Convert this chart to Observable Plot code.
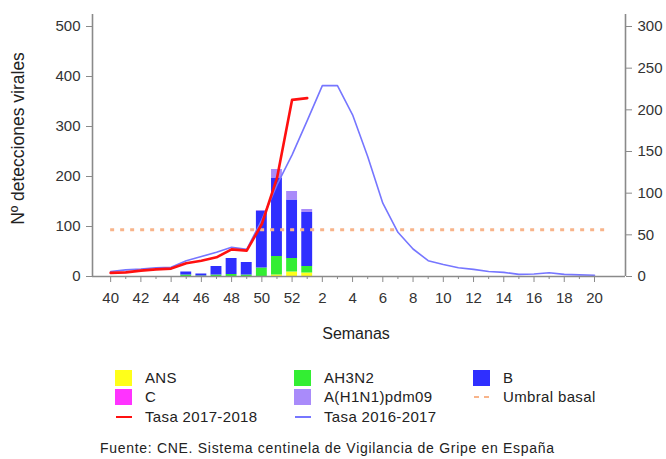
<!DOCTYPE html>
<html>
<head>
<meta charset="utf-8">
<script src="https://cdn.jsdelivr.net/npm/d3@7"></script>
<script src="https://cdn.jsdelivr.net/npm/@observablehq/plot@0.6"></script>
<style>
  html, body { margin: 0; padding: 0; background: #fff; }
  body { width: 666px; height: 459px; position: relative; overflow: hidden;
         font-family: "Liberation Sans", Arial, sans-serif; color: #222; }
  #chart { position: absolute; left: 0; top: 0; }
  .leg { position: absolute; font-size: 15px; line-height: 17px; letter-spacing: 0.35px; white-space: nowrap; }
  .sw { position: absolute; }
  #caption { position: absolute; left: 100px; top: 440px; font-size: 14px; letter-spacing: 0.7px; white-space: nowrap; }
</style>
</head>
<body>
<div id="chart"></div>
<div id="legend"></div>
<div id="caption">Fuente: CNE. Sistema centinela de Vigilancia de Gripe en España</div>
<script>
// ---- data ----
const weeks = ["40","41","42","43","44","45","46","47","48","49","50","51","52",
  "1","2","3","4","5","6","7","8","9","10","11","12","13","14","15","16","17","18","19","20"];
const barWeeks = ["45","46","47","48","49","50","51","52","1"];
const seriesNames = ["ANS","C","AH3N2","B","A(H1N1)pdm09"];
const ANS   = [0,0,0,0,0,0,3,9,7];
const C     = [0,0,0,0,0,0,0,0,0];
const AH3N2 = [3,1,3,4,3,17,37,27,13];
const B     = [6,4,17,32,25,113,156,117,108];
const H1N1  = [0,0,0,0,0,2,18,17,6];
const seriesColors = ["#ffff1a","#ff33ff","#33ee33","#2f2fff","#a98bfa"];
// rates (right axis, per 100.000)
const rate2017Weeks = ["40","41","42","43","44","45","46","47","48","49","50","51","52","1"];
const rate2017 = [4.4,5,7,8.5,9.5,16,19,23,32.5,31,63,118,212,214];
const rate2016 = [6,8,9,10.5,11,19,24,29,35,32.5,68,110,146,
  187,229,229,194,144,88,53,33,19,14.5,10.5,8.5,6,5,2.5,3,4.5,2.5,2,1.5];
const umbral = 56;
const leftTicks = [0,100,200,300,400,500];
const rightTicks = [0,50,100,150,200,250,300];

// ---- derived ----
const idx = w => weeks.indexOf(w);
const toLeft = v => v * 500 / 300;
const seriesValues = [ANS, C, AH3N2, B, H1N1];
const stacked = [];
barWeeks.forEach((w, j) => {
  let acc = 0;
  seriesNames.forEach((s, k) => {
    const v = seriesValues[k][j];
    stacked.push({i: idx(w), type: s, y1: acc, y2: acc + v});
    acc += v;
  });
});
const line2016 = weeks.map((w, i) => ({i, v: toLeft(rate2016[i])}));
const line2017 = rate2017Weeks.map((w, k) => ({i: idx(w), v: toLeft(rate2017[k])}));

const axisColor = "#8a8a8a";
const xDom = [-1.2, 34.05];

const plot = Plot.plot({
  width: 666,
  height: 355,
  marginLeft: 92,
  marginRight: 41,
  marginTop: 14,
  marginBottom: 79,
  style: {fontFamily: '"Liberation Sans", Arial, sans-serif', fontSize: "15px", color: "#333", background: "#fff", overflow: "visible"},
  x: {type: "linear", domain: xDom},
  y: {domain: [0, 524]},
  color: {domain: seriesNames, range: seriesColors},
  marks: [
    Plot.rect(stacked, {x1: d => d.i - 0.36, x2: d => d.i + 0.36, y1: "y1", y2: "y2", fill: "type"}),
    Plot.ruleY([toLeft(umbral)], {x1: 0, x2: 32.8, stroke: "#f8b48a", strokeWidth: 3, strokeDasharray: "4,6"}),
    Plot.line(line2016, {x: "i", y: "v", stroke: "#7676ff", strokeWidth: 1.6}),
    Plot.line(line2017, {x: "i", y: "v", stroke: "#ff1010", strokeWidth: 2.6}),
    Plot.ruleY([0], {stroke: axisColor, strokeWidth: 1.6}),
    Plot.ruleX([xDom[0]], {stroke: axisColor, strokeWidth: 1.6}),
    Plot.ruleX([xDom[1]], {stroke: axisColor, strokeWidth: 1.6}),
    Plot.axisY({anchor: "left", ticks: leftTicks, tickSize: 6, tickPadding: 6, stroke: axisColor, fill: "#333", fontSize: 15, label: null}),
    Plot.axisY({anchor: "right", ticks: rightTicks.map(toLeft), tickFormat: d => String(Math.round(d * 0.6)), tickSize: 6, tickPadding: 6, stroke: axisColor, fill: "#333", fontSize: 15, label: null}),
    Plot.axisX({ticks: d3.range(0, weeks.length, 2), tickFormat: i => weeks[i], tickSize: 6, tickPadding: 10, stroke: axisColor, fill: "#333", fontSize: 15, label: null}),
    Plot.axisX({ticks: d3.range(1, weeks.length, 2), tickFormat: () => "", tickSize: 3, stroke: axisColor, label: null}),
    Plot.text(["Nº detecciones virales"], {text: d => d, frameAnchor: "left", textAnchor: "middle", dx: -74, dy: -7, rotate: -90, fontSize: 17.5, fill: "#222"}),
    Plot.text(["Semanas"], {text: d => d, frameAnchor: "bottom", dx: -3, dy: 62, fontSize: 16, fill: "#222"})
  ]
});
document.getElementById("chart").appendChild(plot);

// ---- legend (HTML) ----
const legendItems = [
  {label: "ANS", kind: "box", color: seriesColors[0], x: 115, y: 378},
  {label: "C", kind: "box", color: seriesColors[1], x: 115, y: 397},
  {label: "Tasa 2017-2018", kind: "line", color: "#ff1010", w: 2.6, x: 115, y: 417},
  {label: "AH3N2", kind: "box", color: seriesColors[2], x: 294, y: 378},
  {label: "A(H1N1)pdm09", kind: "box", color: seriesColors[4], x: 294, y: 397},
  {label: "Tasa 2016-2017", kind: "line", color: "#7676ff", w: 1.6, x: 294, y: 417},
  {label: "B", kind: "box", color: seriesColors[3], x: 473, y: 378},
  {label: "Umbral basal", kind: "dash", color: "#f8b48a", w: 2, x: 473, y: 397}
];
const leg = document.getElementById("legend");
legendItems.forEach(it => {
  const sw = document.createElement("div");
  sw.className = "sw";
  if (it.kind === "box") {
    Object.assign(sw.style, {left: it.x + "px", top: (it.y - 8) + "px", width: "17px", height: "16px", background: it.color});
  } else if (it.kind === "line") {
    Object.assign(sw.style, {left: (it.x + 1) + "px", top: (it.y - it.w / 2) + "px", width: "16px", height: it.w + "px", background: it.color});
  } else {
    Object.assign(sw.style, {left: (it.x + 1) + "px", top: (it.y - 1) + "px", width: "16px", height: "2px",
      background: `repeating-linear-gradient(90deg, ${it.color} 0 5px, transparent 5px 10px)`});
  }
  leg.appendChild(sw);
  const t = document.createElement("div");
  t.className = "leg";
  t.textContent = it.label;
  Object.assign(t.style, {left: (it.x + 30) + "px", top: (it.y - 9) + "px"});
  leg.appendChild(t);
});
</script>
</body>
</html>
